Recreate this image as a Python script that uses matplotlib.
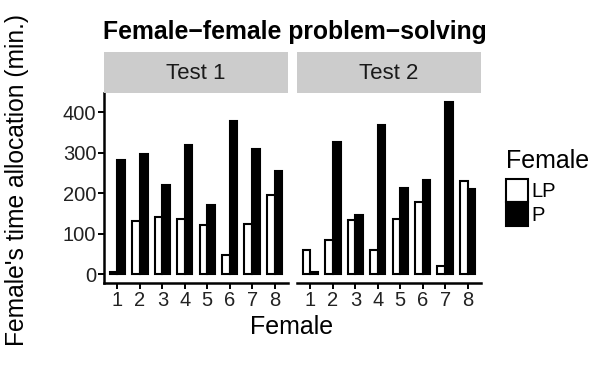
import matplotlib.pyplot as plt
import numpy as np
from matplotlib.patches import Patch

plt.rcParams['font.family'] = ['Liberation Sans', 'DejaVu Sans']

# Data
females = ['1', '2', '3', '4', '5', '6', '7', '8']
tests = ['Test 1', 'Test 2']
lp_test1 = [5, 131, 143, 138, 123, 49, 125, 195]
p_test1 = [282, 297, 220, 319, 171, 380, 311, 256]
lp_test2 = [60, 85, 134, 61, 138, 178, 20, 231]
p_test2 = [5, 326, 146, 368, 214, 234, 427, 212]

fig = plt.figure(figsize=(6, 3.65), dpi=100)

panels = [(lp_test1, p_test1), (lp_test2, p_test2)]
lefts = [104 / 600, 297 / 600]
pw = 184 / 600
bottom = 1 - 283 / 365
ph = (283 - 93) / 365
strip_h = (93 - 52) / 365

x = np.arange(1, len(females) + 1)
w = 0.34

for i, (lp, p) in enumerate(panels):
    ax = fig.add_axes([lefts[i], bottom, pw, ph])
    ax.bar(x - w / 2, lp, width=w, color='white', edgecolor='black', linewidth=1.5)
    ax.bar(x + w / 2, p, width=w, color='black', edgecolor='black', linewidth=1.5)
    ax.set_xlim(0.4, 8.6)
    ax.set_ylim(-21, 448)
    ax.set_xticks(x)
    ax.set_xticklabels(females)
    ax.set_yticks([0, 100, 200, 300, 400])
    for s in ['top', 'right']:
        ax.spines[s].set_visible(False)
    ax.spines['bottom'].set_linewidth(1.8)
    ax.spines['left'].set_linewidth(1.8)
    ax.tick_params(width=1.4, length=4, colors='black', labelsize=14.5, pad=1.5)
    ax.tick_params(labelcolor='#222222')
    if i == 1:
        ax.spines['left'].set_visible(False)
        ax.tick_params(axis='y', left=False, labelleft=False)

    sax = fig.add_axes([lefts[i], bottom + ph, pw, strip_h])
    sax.set_facecolor('#cccccc')
    sax.set_xticks([])
    sax.set_yticks([])
    for s in sax.spines.values():
        s.set_visible(False)
    sax.text(0.5, 0.47, tests[i], ha='center', va='center', fontsize=16,
             color='#1a1a1a', transform=sax.transAxes)

fig.text(103 / 600, 1 - 32 / 365, 'Female\u2212female problem\u2212solving',
         fontsize=17.8, fontweight='bold', ha='left', va='center')
fig.text(292 / 600, 1 - 327 / 365, 'Female', fontsize=18, ha='center', va='center')
fig.text(17 / 600, 1 - 180 / 365, "Female's time allocation (min.)", fontsize=17.7,
         rotation=90, ha='center', va='center')

handles = [Patch(facecolor='white', edgecolor='black', linewidth=1.5, label='LP'),
           Patch(facecolor='black', edgecolor='black', linewidth=1.5, label='P')]
leg = fig.legend(handles=handles, title='Female', loc='upper left',
                 bbox_to_anchor=(506 / 600, 1 - 149 / 365), frameon=False,
                 fontsize=14.5, title_fontsize=18, handlelength=1.1,
                 handleheight=1.45, handletextpad=0.15, labelspacing=0.0,
                 borderpad=0, borderaxespad=0)
leg._legend_box.align = 'left'
leg._legend_box.sep = 4

fig.savefig('out.png', dpi=100)
